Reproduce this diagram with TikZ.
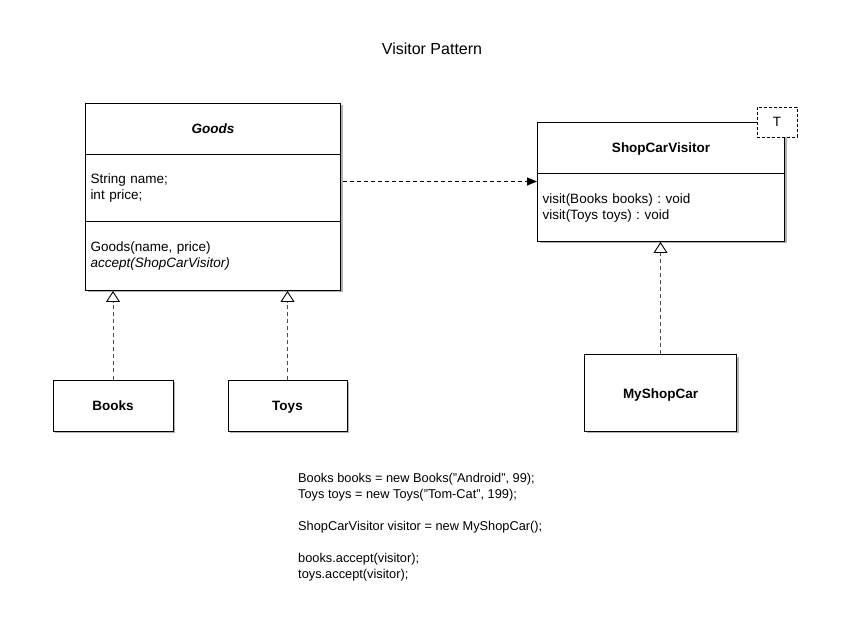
\documentclass[tikz,border=0pt]{standalone}
\usepackage{fontspec}
\setmainfont{Liberation Sans}
\usepackage{tikz}
\usetikzlibrary{positioning,arrows.meta,shadows}
\frenchspacing

\begin{document}
\begin{tikzpicture}[x=1pt, y=-1pt,
		font=\fontsize{13.5}{16}\selectfont,
		classbox/.style={draw, fill=white, line width=1pt, inner sep=0pt,
			drop shadow={shadow xshift=2pt, shadow yshift=-2pt, fill=black!60, opacity=0.5}},
		namepart/.style={inner sep=0pt, text height=10pt, text depth=0pt, font=\fontsize{13.5}{16}\selectfont\bfseries},
		textpart/.style={inner xsep=5pt, inner ysep=0pt, align=left},
		realize/.style={draw, dash pattern=on 4pt off 3pt, line width=0.9pt, black!70,
			-{Triangle[open, width=14pt, length=11pt, fill=white, black]}},
		depend/.style={draw, dash pattern=on 4pt off 3pt, line width=0.9pt,
			-{Triangle[width=8pt, length=10pt]}}]
	\useasboundingbox (0,0) rectangle (849,644);
	\node (title) at (432,49) {\fontsize{16}{18}\selectfont Visitor Pattern};

	\node[classbox, minimum width=255pt, minimum height=187pt, anchor=north west] (goods) at (85,103) {};
	\node[namepart, minimum width=255pt, minimum height=51pt, below=0pt of goods.north] (goodsname) {\textit{Goods}};
	\node[textpart, text width=245pt, minimum height=67pt, below=0pt of goodsname] (goodsattr) {String name;\\int price;};
	\node[textpart, text width=245pt, minimum height=69pt, below=0pt of goodsattr] (goodsops) {Goods(name, price)\\\textit{accept(ShopCarVisitor)}};
	\draw[line width=1pt] (goodsname.south west) -- (goodsname.south east);
	\draw[line width=1pt] (goodsattr.south west) -- (goodsattr.south east);

	\node[classbox, minimum width=247pt, minimum height=119pt, anchor=north west] (visitor) at (537,122) {};
	\node[namepart, minimum width=247pt, minimum height=51pt, below=0pt of visitor.north] (visitorname) {ShopCarVisitor};
	\node[textpart, text width=237pt, minimum height=68pt, below=0pt of visitorname] (visitorops) {visit(Books books) : void\\visit(Toys toys) : void};
	\draw[line width=1pt] (visitorname.south west) -- (visitorname.south east);
	\node[draw, dash pattern=on 3pt off 2pt, fill=white, line width=0.9pt, minimum width=40pt, minimum height=30pt]
		(param) at ([xshift=-8pt]visitor.north east) {T};

	\node[classbox, namepart, minimum width=120pt, minimum height=51pt] (books) at (113,405.5) {Books};
	\node[classbox, namepart, minimum width=119pt, minimum height=51pt] (toys) at (287.5,405.5) {Toys};
	\node[classbox, namepart, minimum width=152pt, minimum height=76pt] (myshop) at (660.5,393) {MyShopCar};

	\draw[realize] (books.north) -- (books.north |- goods.south);
	\draw[realize] (toys.north) -- (toys.north |- goods.south);
	\draw[realize] (myshop.north) -- (myshop.north |- visitor.south);

	\coordinate (depstart) at ([xshift=2pt, yshift=15.5pt]goods.east);
	\draw[depend] (depstart) -- (depstart -| visitor.west);

	\node[align=left, inner sep=0pt, anchor=north west, font=\fontsize{12.8}{16}\selectfont] (client) at (298,473)
		{Books books = new Books("Android", 99);\\
		Toys toys = new Toys("Tom-Cat", 199);\\[16pt]
		ShopCarVisitor visitor = new MyShopCar();\\[16pt]
		books.accept(visitor);\\
		toys.accept(visitor);};
\end{tikzpicture}
\end{document}
